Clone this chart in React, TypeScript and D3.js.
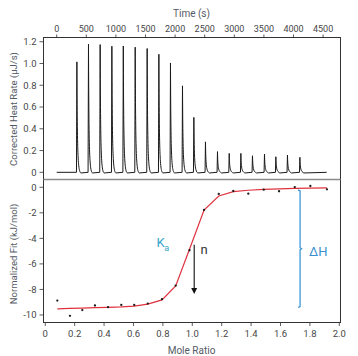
import React from "react";
import * as d3 from "d3";

const timeTicks = [0, 500, 1000, 1500, 2000, 2500, 3000, 3500, 4000, 4500];
const peakTimes = [338, 534, 731, 929, 1122, 1323, 1525, 1723, 1919, 2122, 2314, 2510, 2713, 2911, 3108, 3304, 3507, 3699, 3895, 4105];
const peakHeights = [1.015, 1.177, 1.174, 1.159, 1.161, 1.15, 1.138, 1.085, 1.005, 0.795, 0.505, 0.28, 0.19, 0.174, 0.174, 0.152, 0.168, 0.143, 0.159, 0.138];
const traceEnd = 4560;

const moleRatio = [0.082, 0.168, 0.252, 0.338, 0.427, 0.517, 0.605, 0.697, 0.794, 0.887, 0.981, 1.08, 1.18, 1.279, 1.381, 1.486, 1.59, 1.697, 1.803, 1.916];
const heatPoints = [-8.87, -10.07, -9.62, -9.26, -9.39, -9.21, -9.21, -9.11, -8.76, -7.7, -4.93, -1.78, -0.52, -0.29, -0.5, -0.19, -0.31, 0.02, 0.1, -0.16];
const fitValues = [-9.52, -9.49, -9.46, -9.43, -9.4, -9.37, -9.31, -9.15, -8.82, -7.72, -4.85, -1.78, -0.68, -0.34, -0.23, -0.16, -0.13, -0.09, -0.06, -0.05];

const rateTicks = [0, 0.2, 0.4, 0.6, 0.8, 1.0, 1.2];
const fitTicks = [0, -2, -4, -6, -8, -10];
const ratioTicks = [0, 0.2, 0.4, 0.6, 0.8, 1.0, 1.2, 1.4, 1.6, 1.8, 2.0];

const FONT = "Roboto, 'DejaVu Sans', sans-serif";
const TICK_COLOR = "#474747";
const TITLE_COLOR = "#555b66";

export default function App() {
  const W = 358, H = 356;
  const L = 43.5, R = 340.5, T1 = 37.5, B1 = 179.5, B2 = 322.5;

  const xT = d3.scaleLinear().domain([-223, 4794]).range([L, R]);
  const yT = d3.scaleLinear().domain([-0.066, 1.239]).range([B1, T1]);
  const xM = d3.scaleLinear().domain([-0.012, 2.008]).range([L, R]);
  const yM = d3.scaleLinear().domain([-10.59, 0.61]).range([B2, B1]);

  let trace = `M${xT(0)},${yT(0)}`;
  peakTimes.forEach((t, i) => {
    const h = peakHeights[i];
    trace += `L${xT(t - 4)},${yT(0)}`;
    trace += `L${xT(t + 3)},${yT(h)}`;
    trace += `C${xT(t + 10)},${yT(h * 0.2)} ${xT(t + 16)},${yT(0.01)} ${xT(t + 70)},${yT(-0.006)}`;
  });
  trace += `L${xT(traceEnd)},${yT(0)}`;

  const fitLine = d3
    .line<number>()
    .x((_, i) => xM(moleRatio[i]))
    .y((v) => yM(v))(fitValues) as string;

  const fmt1 = (v: number) => (v === 0 ? "0" : v.toFixed(1));

  // annotation anchors (in data coordinates)
  const arrowX = xM(1.013);
  const arrowTop = yM(-4.5);
  const arrowBot = yM(-8.35);
  const brX = xM(1.733);
  const brTop = yM(-0.2);
  const brBot = yM(-9.42);
  const brMid = (brTop + brBot) / 2;

  return (
    <svg
      width={W}
      height={H}
      style={{ position: "absolute", left: 0, top: 0, background: "#fff" }}
      fontFamily={FONT}
    >
      {/* Top axis title */}
      <text x={191.5} y={16.5} fontSize={10} fill={TITLE_COLOR} textAnchor="middle">
        Time (s)
      </text>
      {timeTicks.map((t) => (
        <g key={"tt" + t}>
          <line x1={xT(t)} x2={xT(t)} y1={T1} y2={T1 - 3} stroke="#333" strokeWidth={0.8} />
          <text x={xT(t)} y={31.5} fontSize={9} fill={TICK_COLOR} textAnchor="middle">
            {t}
          </text>
        </g>
      ))}

      {/* Top panel left axis */}
      {rateTicks.map((v) => (
        <g key={"rt" + v}>
          <line x1={L} x2={L - 4} y1={yT(v)} y2={yT(v)} stroke="#333" strokeWidth={0.8} />
          <text x={36.5} y={yT(v) + 3.3} fontSize={9.5} fill={TICK_COLOR} textAnchor="end">
            {fmt1(v)}
          </text>
        </g>
      ))}
      <text
        transform={`translate(16.5,${109}) rotate(-90)`}
        fontSize={9.5}
        fill={TITLE_COLOR}
        textAnchor="middle"
      >
        Corrected Heat Rate (µJ/s)
      </text>

      {/* Thermogram */}
      <path d={trace} fill="none" stroke="#1a1a1a" strokeWidth={1} strokeLinejoin="round" />

      {/* Bottom panel left axis */}
      {fitTicks.map((v) => (
        <g key={"ft" + v}>
          <line x1={L} x2={L - 4} y1={yM(v)} y2={yM(v)} stroke="#333" strokeWidth={0.8} />
          <text x={36.5} y={yM(v) + 3.3} fontSize={9.5} fill={TICK_COLOR} textAnchor="end">
            {v === 0 ? "0" : "-" + Math.abs(v)}
          </text>
        </g>
      ))}
      <text
        transform={`translate(16.5,${254}) rotate(-90)`}
        fontSize={9.5}
        fill={TITLE_COLOR}
        textAnchor="middle"
      >
        Normalized Fit (kJ/mol)
      </text>

      {/* Bottom axis */}
      {ratioTicks.map((v) => (
        <g key={"mt" + v}>
          <line x1={xM(v)} x2={xM(v)} y1={B2} y2={B2 + 3.5} stroke="#333" strokeWidth={0.8} />
          <text x={xM(v)} y={337} fontSize={9.5} fill={TICK_COLOR} textAnchor="middle">
            {fmt1(v)}
          </text>
        </g>
      ))}
      <text x={191.5} y={354} fontSize={10} fill={TITLE_COLOR} textAnchor="middle">
        Mole Ratio
      </text>

      {/* Fit */}
      <path d={fitLine} fill="none" stroke="#e0323e" strokeWidth={1.2} />
      {moleRatio.map((m, i) => (
        <circle key={"p" + i} cx={xM(m)} cy={yM(heatPoints[i])} r={1.15} fill="#1a1a1a" />
      ))}

      {/* Annotations */}
      <text x={156.5} y={247} fontSize={13} fill="#35a3c9">
        K
      </text>
      <text x={164.3} y={251} fontSize={9} fill="#35a3c9">
        a
      </text>

      <line x1={arrowX} x2={arrowX} y1={arrowTop} y2={arrowBot - 5} stroke="#111" strokeWidth={1.1} />
      <path
        d={`M${arrowX - 3},${arrowBot - 6} L${arrowX + 3},${arrowBot - 6} L${arrowX},${arrowBot} Z`}
        fill="#111"
      />
      <text x={200.5} y={254} fontSize={13} fill="#333">
        n
      </text>

      <path
        d={`M${brX - 2},${brTop} L${brX},${brTop + 1} L${brX},${brMid - 1} L${brX + 1.5},${brMid} L${brX},${brMid + 1} L${brX},${brBot - 1} L${brX - 2},${brBot}`}
        fill="none"
        stroke="#2f8fd6"
        strokeWidth={1.2}
      />
      <text x={309} y={256} fontSize={13} fill="#3a8fd2">
        ΔH
      </text>

      {/* Frames */}
      <rect x={L} y={T1} width={R - L} height={B2 - T1} fill="none" stroke="#333" strokeWidth={1} />
      <line x1={L} x2={R} y1={B1} y2={B1} stroke="#8a8a8a" strokeWidth={1.6} />
    </svg>
  );
}
